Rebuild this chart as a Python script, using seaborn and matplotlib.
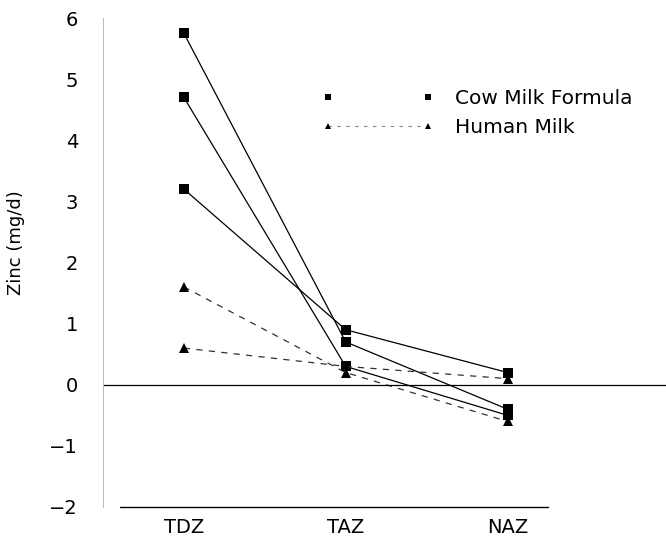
import matplotlib
matplotlib.use("Agg")
import matplotlib.pyplot as plt
from matplotlib.lines import Line2D
import seaborn as sns
import pandas as pd

sites = ["TDZ", "TAZ", "NAZ"]
cow_1 = [5.75, 0.7, -0.4]
cow_2 = [4.7, 0.3, -0.5]
cow_3 = [3.2, 0.9, 0.2]
human_1 = [1.6, 0.2, -0.6]
human_2 = [0.6, 0.3, 0.1]
yticks = [-2, -1, 0, 1, 2, 3, 4, 5, 6]
groups = ["Cow Milk Formula", "Human Milk"]

rows = []
for name, grp, vals in [("c1", groups[0], cow_1), ("c2", groups[0], cow_2),
                        ("c3", groups[0], cow_3), ("h1", groups[1], human_1),
                        ("h2", groups[1], human_2)]:
    for s, v in zip(sites, vals):
        rows.append({"subject": name, "group": grp, "site": s, "zinc": v})
df = pd.DataFrame(rows)

sns.set_style("white")
plt.rcParams["font.family"] = ["DejaVu Sans"]
plt.rcParams["text.color"] = "black"
plt.rcParams["axes.labelcolor"] = "black"
plt.rcParams["xtick.color"] = "black"
plt.rcParams["ytick.color"] = "black"

fig = plt.figure(figsize=(6.66, 5.37), dpi=100)
ax = fig.add_axes([103/666, 30/537, 445/666, 489/537])

sns.lineplot(data=df, x="site", y="zinc", units="subject", estimator=None,
             hue="group", style="group",
             palette={groups[0]: "black", groups[1]: "#333333"},
             markers={groups[0]: "s", groups[1]: "^"},
             dashes={groups[0]: "", groups[1]: (5, 5)},
             markersize=6.5, linewidth=0.9, markeredgewidth=0,
             markerfacecolor="black",
             legend=False, ax=ax, sort=False)

ax.set_xlim(-0.5, 2.25)
ax.set_ylim(-2, 6)
ax.set_yticks(yticks)
ax.set_xlabel("")
ax.set_ylabel("Zinc (mg/d)", fontsize=13)
ax.yaxis.set_label_coords(-0.175, 0.54)

for sp in ["top", "right", "bottom"]:
    ax.spines[sp].set_visible(False)
ax.spines["left"].set_color("#bbbbbb")
ax.spines["left"].set_linewidth(0.8)

ax.tick_params(axis="y", length=2, color="black", pad=16, labelsize=14)
ax.tick_params(axis="x", length=0, pad=8, labelsize=14)

ax.axhline(-2, xmin=17/445, xmax=1, color="black", linewidth=1.0, clip_on=False)
ax.axhline(0, xmin=0, xmax=(666-103)/445, color="black", linewidth=0.9, clip_on=False)

handles = [
    Line2D([], [], color="black", linestyle="none", marker="s", markersize=5, markeredgewidth=0),
    Line2D([], [], color="#888888", linestyle=(0, (3, 5)), linewidth=0.8, marker="^", markersize=5,
           markerfacecolor="black", markeredgewidth=0),
]
fig.legend(handles, groups, loc="upper left", bbox_to_anchor=(322/666, 1 - 89/537),
           frameon=False, numpoints=2, handlelength=5.55, handletextpad=1.05,
           borderpad=0, borderaxespad=0, labelspacing=0.5, fontsize=14.5)

fig.savefig("out.png", dpi=100)
